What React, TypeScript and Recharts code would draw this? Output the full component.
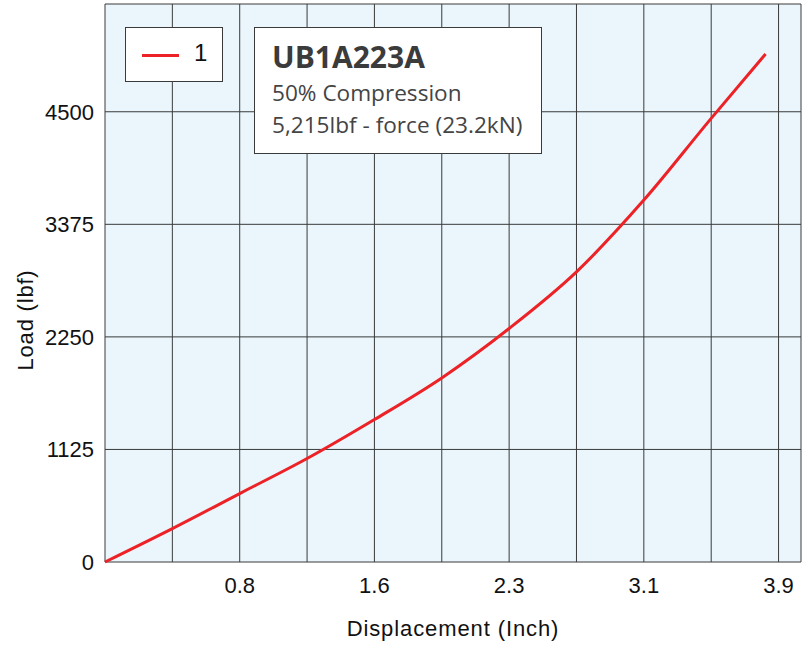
import {
  Label,
  Line,
  LineChart,
  ReferenceArea,
  ReferenceLine,
  XAxis,
  YAxis,
} from 'recharts';

// displacement (inch) vs load (lbf) at the grid lines
const displacement = [0, 0.39, 0.78, 1.17, 1.56, 1.95, 2.34, 2.73, 3.12, 3.51, 3.825];
const load = [0, 334, 684, 1034, 1424, 1840, 2334, 2900, 3617, 4434, 5077];

const xTicks = [0.78, 1.56, 2.34, 3.12, 3.9];
const xGrid = [0.39, 0.78, 1.17, 1.56, 1.95, 2.34, 2.73, 3.12, 3.51, 3.9];
const yTicks = [0, 1125, 2250, 3375, 4500];
const xMax = 4.03;
const yMax = 5577;

const seriesName = '1';
const infoTitle = 'UB1A223A';
const infoLines = ['50% Compression', '5,215lbf - force (23.2kN)'];

const data = displacement.map((d, i) => ({ d, load: load[i] }));

const RED = '#ec2227';
const GRID = '#3a3a3a';
const FONT = '"Liberation Sans", Arial, sans-serif';

function YTitle({ viewBox }: any) {
  const cx = viewBox.x + 25;
  const cy = viewBox.y + viewBox.height / 2 + 37;
  return (
    <text
      x={cx}
      y={cy}
      transform={`rotate(-90 ${cx} ${cy})`}
      textAnchor="middle"
      dominantBaseline="central"
      fontSize={22}
      letterSpacing={0.8}
      fontFamily={FONT}
      fill="#111"
    >
      Load (lbf)
    </text>
  );
}

export default function App() {
  return (
    <div style={{ position: 'absolute', left: 0, top: 0, width: 810, height: 646, background: '#fff' }}>
      <LineChart width={810} height={646} data={data} margin={{ top: 4, right: 9, bottom: 0, left: 0 }}>
        <ReferenceArea
          x1={0}
          x2={xMax}
          y1={0}
          y2={yMax}
          fill="#eaf6fc"
          fillOpacity={1}
          stroke={GRID}
          strokeWidth={1}
        />
        {xGrid.map((v) => (
          <ReferenceLine key={'x' + v} x={v} stroke={GRID} strokeWidth={1} />
        ))}
        {yTicks.slice(1).map((v) => (
          <ReferenceLine key={'y' + v} y={v} stroke={GRID} strokeWidth={1} />
        ))}
        <XAxis
          dataKey="d"
          type="number"
          domain={[0, xMax]}
          ticks={xTicks}
          tickFormatter={(v: number) => v.toFixed(1)}
          axisLine={false}
          tickLine={false}
          tickMargin={9}
          height={84}
          tick={{ fontSize: 22, fill: '#111', fontFamily: FONT }}
        >
          <Label
            value="Displacement (Inch)"
            position="insideBottom"
            offset={10}
            style={{ fontSize: 22, fill: '#111', fontFamily: FONT, letterSpacing: 0.9 }}
          />
        </XAxis>
        <YAxis
          type="number"
          domain={[0, yMax]}
          ticks={yTicks}
          axisLine={false}
          tickLine={false}
          tickMargin={5}
          width={105}
          tick={{ fontSize: 22, fill: '#111', fontFamily: FONT }}
        >
          <Label content={YTitle} />
        </YAxis>
        <Line
          type="monotone"
          dataKey="load"
          name={seriesName}
          stroke={RED}
          strokeWidth={3}
          dot={false}
          isAnimationActive={false}
        />
      </LineChart>

      <div
        style={{
          position: 'absolute',
          left: 125,
          top: 27,
          width: 96,
          height: 53,
          background: '#fff',
          border: `1px solid ${GRID}`,
          fontFamily: FONT,
        }}
      >
        <div style={{ position: 'absolute', left: 16, top: 26, width: 37, height: 3, background: RED }} />
        <div style={{ position: 'absolute', left: 68, top: 11, fontSize: 24, lineHeight: '28px', color: '#111' }}>
          {seriesName}
        </div>
      </div>

      <div
        style={{
          position: 'absolute',
          left: 254,
          top: 27,
          width: 286,
          height: 125,
          background: '#fff',
          border: `1px solid ${GRID}`,
          fontFamily: '"Open Sans", sans-serif',
          color: '#444',
          boxSizing: 'content-box',
        }}
      >
        <div style={{ position: 'absolute', left: 17, top: 12, fontSize: 30, fontWeight: 700, lineHeight: '34px', color: '#3b3b3b' }}>
          {infoTitle}
        </div>
        {infoLines.map((t, i) => (
          <div key={t} style={{ position: 'absolute', left: 17, top: 50 + i * 32, fontSize: 22.6, lineHeight: '30px' }}>
            {t}
          </div>
        ))}
      </div>
    </div>
  );
}
